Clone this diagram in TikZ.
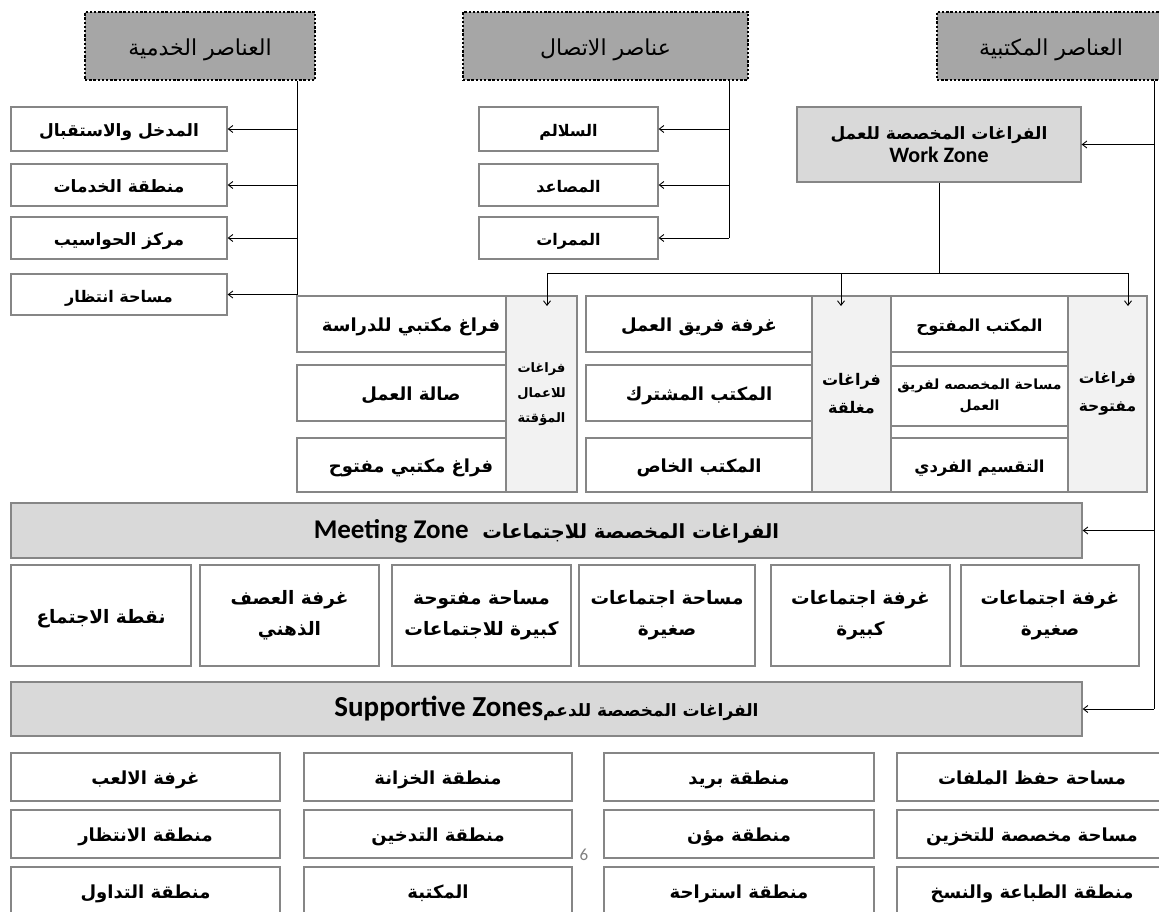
\documentclass[tikz,border=0pt]{standalone}
\usepackage{fontspec}
\usetikzlibrary{arrows.meta, calc}
\TeXXeTstate=1
\newfontfamily\arabicfont[Script=Arabic]{DejaVu Sans}
\newfontfamily\latinfont{Carlito}
\newcommand{\artxt}[1]{\beginR #1\endR}
\newcommand{\fsz}[2]{\fontsize{#1}{#2}\selectfont}
\definecolor{HdrGray} {HTML}{A6A6A6}
\definecolor{ZoneF}   {HTML}{D9D9D9}
\definecolor{SideF}   {HTML}{F2F2F2}
\definecolor{EdgeGray}{HTML}{868686}
\definecolor{NumGray} {HTML}{7F7F7F}
\tikzset{
  hdr/.style args={#1/#2}{
    rectangle, draw=black, fill=HdrGray,
    line width=2.4pt, dash pattern=on 2.4pt off 1.8pt,
    minimum width=#1, minimum height=#2, inner sep=0pt,
    font=\arabicfont\fsz{22}{26}, text height=20pt, text depth=1pt,
  },
  cell/.style args={#1/#2}{
    rectangle, draw=EdgeGray, fill=white,
    line width=1.3pt, align=center, inner sep=2pt,
    minimum width=#1, minimum height=#2,
    text height=16pt, text depth=1pt,
  },
  % several lines: natural height
  multi/.style={text height=, text depth=},
  zone/.style args={#1/#2}{
    cell=#1/#2, fill=ZoneF,
  },
  side/.style args={#1/#2}{
    cell=#1/#2, fill=SideF, multi,
  },
  ln/.style={line width=0.9pt, black},
  arr/.style={
    ln, -{Straight Barb[length=4.5pt,width=7pt]},
  },
}
\begin{document}
\begin{tikzpicture}[x=1pt,y=-1pt,
    every node/.style={font=\arabicfont\bfseries\fsz{17}{23}}]
  \useasboundingbox (0,0) rectangle (1159,912);
  % top headers
  \node[hdr=230pt/68pt] (svc)  at (200,46)    {\artxt{العناصر الخدمية}};
  \node[hdr=285pt/68pt] (comm) at (605.5,46)  {\artxt{عناصر الاتصال}};
  \node[hdr=228pt/68pt] (offc) at (1051,46)   {\artxt{العناصر المكتبية}};

  % service elements
  \node[cell=216pt/44pt] (s1) at (119,129)   {\artxt{المدخل والاستقبال}};
  \node[cell=216pt/42pt] (s2) at (119,185)   {\artxt{منطقة الخدمات}};
  \node[cell=216pt/42pt] (s3) at (119,238)   {\artxt{مركز الحواسيب}};
  \node[cell=216pt/41pt, font=\arabicfont\bfseries\fsz{16}{20}] (s4) at (119,294.5) {\artxt{مساحة انتظار}};

  % circulation elements
  \begin{scope}[every node/.append style={font=\arabicfont\bfseries\fsz{16}{20}}]
    \node[cell=179pt/44pt] (c1) at (568.5,129) {\artxt{السلالم}};
    \node[cell=179pt/42pt] (c2) at (568.5,185) {\artxt{المصاعد}};
    \node[cell=179pt/42pt] (c3) at (568.5,238) {\artxt{الممرات}};
  \end{scope}

  % work zone
  \node[zone=284pt/75pt, multi] (wz) at (939,144.5)
    {\artxt{الفراغات المخصصة للعمل}\\{\latinfont\fsz{22}{26}Work Zone}};

  % temporary / closed / open spaces
  \begin{scope}[every node/.append style={font=\arabicfont\bfseries\fsz{18}{23}}]
    \node[cell=228pt/56pt] (t1) at (411,324) {\artxt{فراغ مكتبي للدراسة}};
    \node[cell=228pt/56pt] (t2) at (411,393) {\artxt{صالة العمل}};
    \node[cell=228pt/54pt] (t3) at (411,465) {\artxt{فراغ مكتبي مفتوح}};
    \node[cell=226pt/56pt] (k1) at (699,324) {\artxt{غرفة فريق العمل}};
    \node[cell=226pt/56pt] (k2) at (699,393) {\artxt{المكتب المشترك}};
    \node[cell=226pt/54pt] (k3) at (699,465) {\artxt{المكتب الخاص}};
  \end{scope}
  \begin{scope}[every node/.append style={font=\arabicfont\bfseries\fsz{16.5}{20}}]
    \node[cell=177pt/56pt] (o1) at (979.5,324) {\artxt{المكتب المفتوح}};
    \node[cell=177pt/60pt, multi, font=\arabicfont\bfseries\fsz{14}{21}] (o2) at (979.5,396)
      {\artxt{مساحة المخصصه لفريق}\\\artxt{العمل}};
    \node[cell=177pt/54pt] (o3) at (979.5,465) {\artxt{التقسيم الفردي}};
  \end{scope}
  \node[side=71pt/196pt, font=\arabicfont\bfseries\fsz{13}{25}] (vt) at (541.5,394)
    {\artxt{فراغات}\\\artxt{للاعمال}\\\artxt{المؤقتة}};
  \node[side=79pt/196pt, font=\arabicfont\bfseries\fsz{16}{28}] (vc) at (851.5,394)
    {\artxt{فراغات}\\\artxt{مغلقة}};
  \node[side=79pt/196pt, font=\arabicfont\bfseries\fsz{15.5}{28}] (vo) at (1107.5,394)
    {\artxt{فراغات}\\\artxt{مفتوحة}};

  % meeting zone
  \node[zone=1071pt/55pt, font=\arabicfont\bfseries\fsz{19.5}{24}] (mz) at (546.5,530.5)
    {\artxt{الفراغات المخصصة للاجتماعات\ \ \beginL{\latinfont\fsz{27}{28}Meeting Zone}\endL}};
  \begin{scope}[every node/.append style={font=\arabicfont\bfseries\fsz{18.5}{31}}]
    \node[cell=180pt/101pt] (m1) at (101,615.5)   {\artxt{نقطة الاجتماع}};
    \node[cell=179pt/101pt, multi] (m2) at (289.5,615.5) {\artxt{غرفة العصف}\\\artxt{الذهني}};
    \node[cell=179pt/101pt, multi] (m3) at (481.5,615.5) {\artxt{مساحة مفتوحة}\\\artxt{كبيرة للاجتماعات}};
    \node[cell=176pt/101pt, multi] (m4) at (667,615.5)   {\artxt{مساحة اجتماعات}\\\artxt{صغيرة}};
    \node[cell=179pt/101pt, multi] (m5) at (860.5,615.5) {\artxt{غرفة اجتماعات}\\\artxt{كبيرة}};
    \node[cell=178pt/101pt, multi] (m6) at (1050,615.5)  {\artxt{غرفة اجتماعات}\\\artxt{صغيرة}};
  \end{scope}

  % supportive zones
  \node[zone=1071pt/54pt, font=\arabicfont\bfseries\fsz{17}{24}] (sz) at (546.5,709)
    {\artxt{الفراغات المخصصة للدعم\beginL{\latinfont\fsz{29}{30}Supportive Zones}\endL}};
  \begin{scope}[every node/.append style={font=\arabicfont\bfseries\fsz{18}{23}}]
    \node[cell=270pt/48pt] (p1) at (1032,777)  {\artxt{مساحة حفظ الملفات}};
    \node[cell=270pt/48pt] (p2) at (1032,834)  {\artxt{مساحة مخصصة للتخزين}};
    \node[cell=270pt/48pt] (p3) at (1032,891)  {\artxt{منطقة الطباعة والنسخ}};
    \node[cell=270pt/48pt] (q1) at (739,777)   {\artxt{منطقة بريد}};
    \node[cell=270pt/48pt] (q2) at (739,834)   {\artxt{منطقة مؤن}};
    \node[cell=270pt/48pt] (q3) at (739,891)   {\artxt{منطقة استراحة}};
    \node[cell=268pt/48pt] (r1) at (438,777)   {\artxt{منطقة الخزانة}};
    \node[cell=268pt/48pt] (r2) at (438,834)   {\artxt{منطقة التدخين}};
    \node[cell=268pt/48pt] (r3) at (438,891)   {\artxt{المكتبة}};
    \node[cell=269pt/48pt] (u1) at (145.5,777) {\artxt{غرفة الالعب}};
    \node[cell=269pt/48pt] (u2) at (145.5,834) {\artxt{منطقة الانتظار}};
    \node[cell=269pt/48pt] (u3) at (145.5,891) {\artxt{منطقة التداول}};
  \end{scope}
  \node[text=NumGray, font=\latinfont\fsz{17}{20}] (pg) at (584,855) {6};

  % connectors
  \coordinate (sbus) at (297,0);
  \coordinate (cbus) at (729,0);
  \coordinate (obus) at (1154,0);
  \coordinate (wbus) at (0,273);
  \coordinate (ta) at (547,306);
  \coordinate (ka) at (841,306);
  \coordinate (oa) at (1128,306);
  \draw[ln] (sbus |- svc.south) -- (sbus |- s4);
  \foreach \n in {s1,s2,s3,s4} \draw[arr] (sbus |- \n) -- (\n.east);
  \draw[ln] (cbus |- comm.south) -- (cbus |- c3);
  \foreach \n in {c1,c2,c3} \draw[arr] (cbus |- \n) -- (\n.east);
  \draw[ln] (obus |- offc.south) -- (obus |- sz);
  \foreach \n in {wz,mz,sz} \draw[arr] (obus |- \n) -- (\n.east);
  \draw[ln] (wz.south) -- (wz.south |- wbus);
  \draw[ln] (ta |- wbus) -- (oa |- wbus);
  \foreach \n in {ta,ka,oa} \draw[arr] (\n |- wbus) -- (\n);
\end{tikzpicture}
\end{document}
